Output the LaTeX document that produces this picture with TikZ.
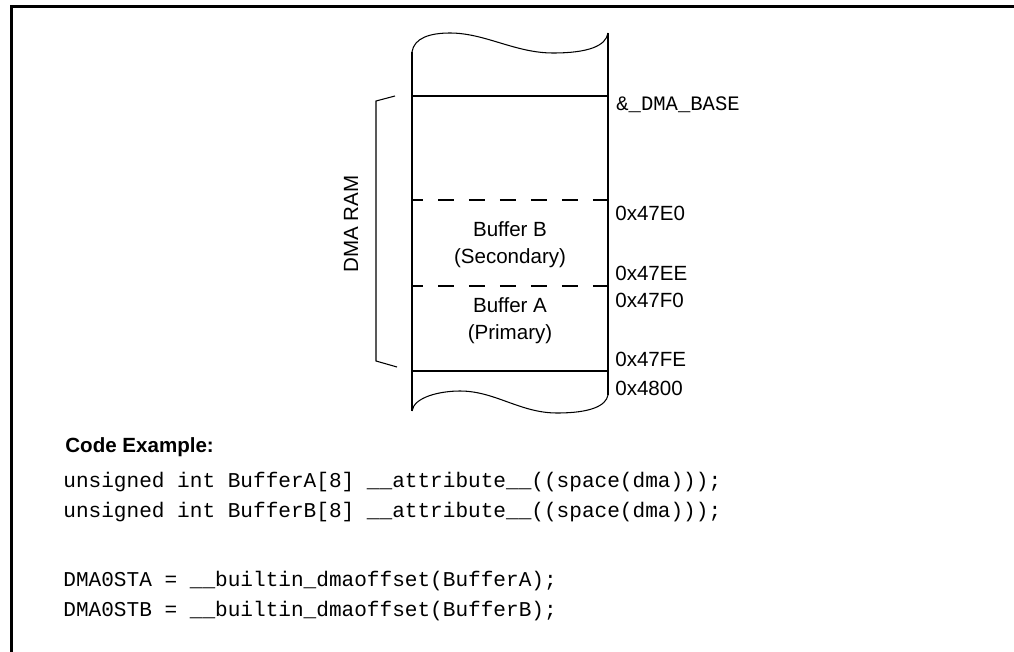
\documentclass[tikz,border=0pt]{standalone}
\usepackage{fontspec}
\setmainfont{Liberation Sans}
\setmonofont{Liberation Mono}
\usetikzlibrary{positioning}

\begin{document}
\begin{tikzpicture}[x=0.02cm, y=-0.02cm]
    % settings for this picture
    \tikzset{
      every node/.style={inner sep=0pt, font=\fontsize{11.7}{15.4}\selectfont},
      wall/.style={line width=1.15pt},
      tear/.style={line width=0.6pt},
      gap/.style={wall, dash pattern=on 0.32cm off 0.3cm, dash phase=0.1cm},
      addr/.style={anchor=base west},
      buf/.style={align=center, anchor=center},
      code/.style={anchor=base west, font=\fontsize{12}{15.4}\selectfont\ttfamily},
    }

    \useasboundingbox (0,0) rectangle (1014,652);
    \clip (0,0) rectangle (1014,652);

    % outer frame
    \draw[line width=1.5pt] (1030,6.5) -- (11.3,6.5) -- (11.3,670);

    % column corners
    \coordinate (tl) at (412,52);
    \coordinate (tr) at (608,33);
    \coordinate (bl) at (412,411);
    \coordinate (br) at (608,395);

    % memory column
    \draw[wall] (tl) -- (bl);
    \draw[wall] (tr) -- (br);
    \draw[tear] (tl) .. controls (414,38) and (430,33) .. (450,33)
                     .. controls (485,33) and (515,53) .. (553,53)
                     .. controls (588,53) and (606,46) .. (tr);
    \draw[tear] (bl) .. controls (414,397) and (440,391) .. (460,391)
                     .. controls (495,391) and (520,413) .. (557,413)
                     .. controls (590,413) and (606,406) .. (br);

    % boundaries
    \draw[wall] (412,96) -- (608,96);
    \draw[gap] (412,200) -- (608,200);
    \draw[gap] (412,286) -- (608,286);
    \draw[wall] (412,371) -- (608,371);

    % bracket
    \draw[tear] (395,96) -- (376,101) -- (376,361) -- (397,367);
    \node[rotate=90, anchor=base] (ram) at (358,224) {DMA RAM};

    % buffers
    \node[buf] (bufb) at (510,245) {Buffer B\\(Secondary)};
    \node[buf] (bufa) at (510,321) {Buffer A\\(Primary)};

    % addresses
    \node[addr, font=\fontsize{11.7}{15.4}\selectfont\ttfamily] (dmabase) at (616,111) {\&\_DMA\_BASE};
    \node[addr] (e0) at (615,220) {0x47E0};
    \node[addr] (ee) at (615,280) {0x47EE};
    \node[addr] (f0) at (615,307) {0x47F0};
    \node[addr] (fe) at (615,366) {0x47FE};
    \node[addr] (end) at (615,395) {0x4800};

    % code
    \node[anchor=base west, font=\fontsize{11.7}{15.4}\selectfont\bfseries] (head) at (65,452) {Code Example:};
    \node[code] (decla) at (63,487) {unsigned int BufferA[8] \_\_attribute\_\_((space(dma)));};
    \node[code, below=0.61cm of decla.base west, anchor=base west] (declb) {unsigned int BufferB[8] \_\_attribute\_\_((space(dma)));};
    \node[code] (seta) at (63,586) {DMA0STA = \_\_builtin\_dmaoffset(BufferA);};
    \node[code, below=0.61cm of seta.base west, anchor=base west] (setb) {DMA0STB = \_\_builtin\_dmaoffset(BufferB);};

  \end{tikzpicture}
\end{document}
